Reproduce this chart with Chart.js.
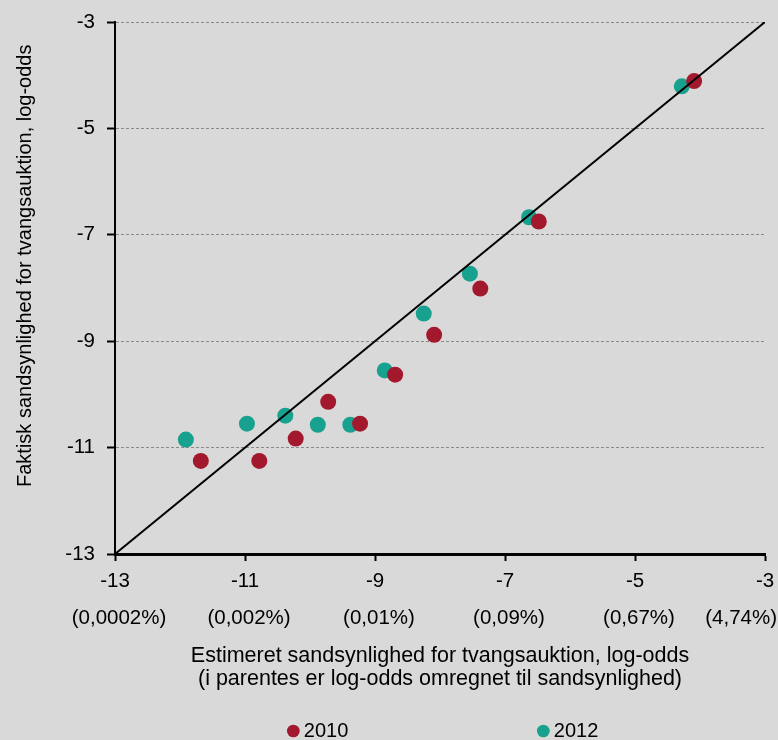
<!DOCTYPE html>
<html>
<head>
<meta charset="utf-8">
<script src="https://cdn.jsdelivr.net/npm/chart.js@4.4.1/dist/chart.umd.min.js"></script>
<style>
  html, body { margin: 0; padding: 0; background: #d9d9d9; }
  #c { display: block; }
</style>
</head>
<body>
<canvas id="c" width="778" height="740"></canvas>
<script>
// ---- data ----
const xTicks = [-13, -11, -9, -7, -5, -3];
const yTicks = [-13, -11, -9, -7, -5, -3];
const pctLabels = ['(0,0002%)', '(0,002%)', '(0,01%)', '(0,09%)', '(0,67%)', '(4,74%)'];
const seriesNames = ['2010', '2012'];
const x2010 = [-4.09, -6.48, -7.38, -8.09, -8.69, -9.72, -9.23, -10.22, -10.78, -11.68];
const y2010 = [-4.11, -6.75, -8.01, -8.88, -9.63, -10.14, -10.55, -10.83, -11.25, -11.25];
const x2012 = [-4.28, -6.63, -7.54, -8.25, -8.85, -9.38, -9.88, -10.38, -10.97, -11.91];
const y2012 = [-4.21, -6.67, -7.73, -8.48, -9.55, -10.57, -10.57, -10.40, -10.55, -10.85];
const diagonal = [-13, -3];
const xTitle = ['Estimeret sandsynlighed for tvangsauktion, log-odds',
                '(i parentes er log-odds omregnet til sandsynlighed)'];
const yTitle = 'Faktisk sandsynlighed for tvangsauktion, log-odds';

const FONT = '"Liberation Sans", Arial, sans-serif';
const RED = '#a2192e';
const TEAL = '#19a18f';

const toPts = (xs, ys) => xs.map((x, i) => ({ x: x, y: ys[i] }));

const pctPlugin = {
  id: 'pctRow',
  afterDraw(chart) {
    const xs = chart.scales.x;
    const ctx = chart.ctx;
    ctx.save();
    ctx.font = '20.5px ' + FONT;
    ctx.fillStyle = '#000';
    ctx.textAlign = 'center';
    ctx.textBaseline = 'middle';
    const y = chart.chartArea.bottom + 64;
    xTicks.forEach((v, i) => {
      const w = ctx.measureText(pctLabels[i]).width;
      let x = xs.getPixelForValue(v) + 4;
      if (x + w / 2 > chart.width - 1) x = chart.width - 1 - w / 2;
      ctx.fillText(pctLabels[i], x, y);
    });
    ctx.restore();
  }
};

const pad = (s, n) => s + ' '.repeat(n);
const legendSpaces = [35, 30];

new Chart(document.getElementById('c'), {
  type: 'scatter',
  data: {
    datasets: [
      {
        label: 'diagonal',
        data: diagonal.map(v => ({ x: v, y: v })),
        showLine: true,
        borderColor: '#000',
        borderWidth: 2,
        pointRadius: 0,
        order: 0
      },
      {
        label: seriesNames[0],
        data: toPts(x2010, y2010),
        backgroundColor: RED,
        borderWidth: 0,
        pointRadius: 8,
        pointHoverRadius: 8,
        order: 1
      },
      {
        label: seriesNames[1],
        data: toPts(x2012, y2012),
        backgroundColor: TEAL,
        borderWidth: 0,
        pointRadius: 8,
        pointHoverRadius: 8,
        order: 2
      }
    ]
  },
  options: {
    responsive: false,
    animation: false,
    devicePixelRatio: 1,
    layout: { padding: { left: 0, right: 13, top: 22, bottom: -11 } },
    scales: {
      x: {
        type: 'linear',
        min: -13,
        max: -3,
        afterBuildTicks: s => { s.ticks = xTicks.map(v => ({ value: v })); },
        afterFit: s => { s.height = 167; s.paddingLeft = 0; s.paddingRight = 0; },
        grid: {
          drawOnChartArea: false,
          drawTicks: true,
          tickLength: 7,
          tickWidth: 2,
          tickColor: '#000'
        },
        border: { display: true, color: '#000', width: 3 },
        ticks: {
          color: '#000',
          font: { family: FONT, size: 20.5 },
          padding: 8,
          maxRotation: 0,
          callback: v => String(v)
        },
        title: {
          display: true,
          text: xTitle,
          color: '#000',
          font: { family: FONT, size: 21.5, lineHeight: 1.07 },
          padding: { top: 0, bottom: 30 }
        }
      },
      y: {
        type: 'linear',
        min: -13,
        max: -3,
        afterBuildTicks: s => { s.ticks = yTicks.map(v => ({ value: v })); },
        afterFit: s => { s.width = 115; s.paddingTop = 0; s.paddingBottom = 0; },
        grid: {
          color: ctx => (ctx.tick && ctx.tick.value === -13) ? 'rgba(0,0,0,0)' : '#8a8a8a',
          lineWidth: 1,
          drawTicks: true,
          tickLength: 8,
          tickWidth: 2,
          tickColor: '#000'
        },
        border: { display: true, color: '#000', width: 2, dash: [3, 2] },
        ticks: {
          color: '#000',
          font: { family: FONT, size: 20.5 },
          padding: 12,
          callback: v => String(v)
        },
        title: {
          display: true,
          text: ' '.repeat(8) + yTitle,
          color: '#000',
          font: { family: FONT, size: 20 },
          padding: { top: 13, bottom: 0 }
        }
      }
    },
    plugins: {
      tooltip: { enabled: false },
      legend: {
        position: 'bottom',
        align: 'end',
        labels: {
          usePointStyle: true,
          pointStyle: 'circle',
          boxWidth: 1,
          boxHeight: 9,
          padding: 0,
          color: '#000',
          font: { family: FONT, size: 20 },
          filter: item => item.text.trim() !== 'diagonal',
          generateLabels: chart => {
            const items = Chart.defaults.plugins.legend.labels.generateLabels(chart);
            return items.map(it => {
              const idx = seriesNames.indexOf(it.text);
              if (idx >= 0) it.text = pad(it.text, legendSpaces[idx]);
              return it;
            });
          }
        }
      }
    }
  },
  plugins: [pctPlugin]
});
</script>
</body>
</html>
